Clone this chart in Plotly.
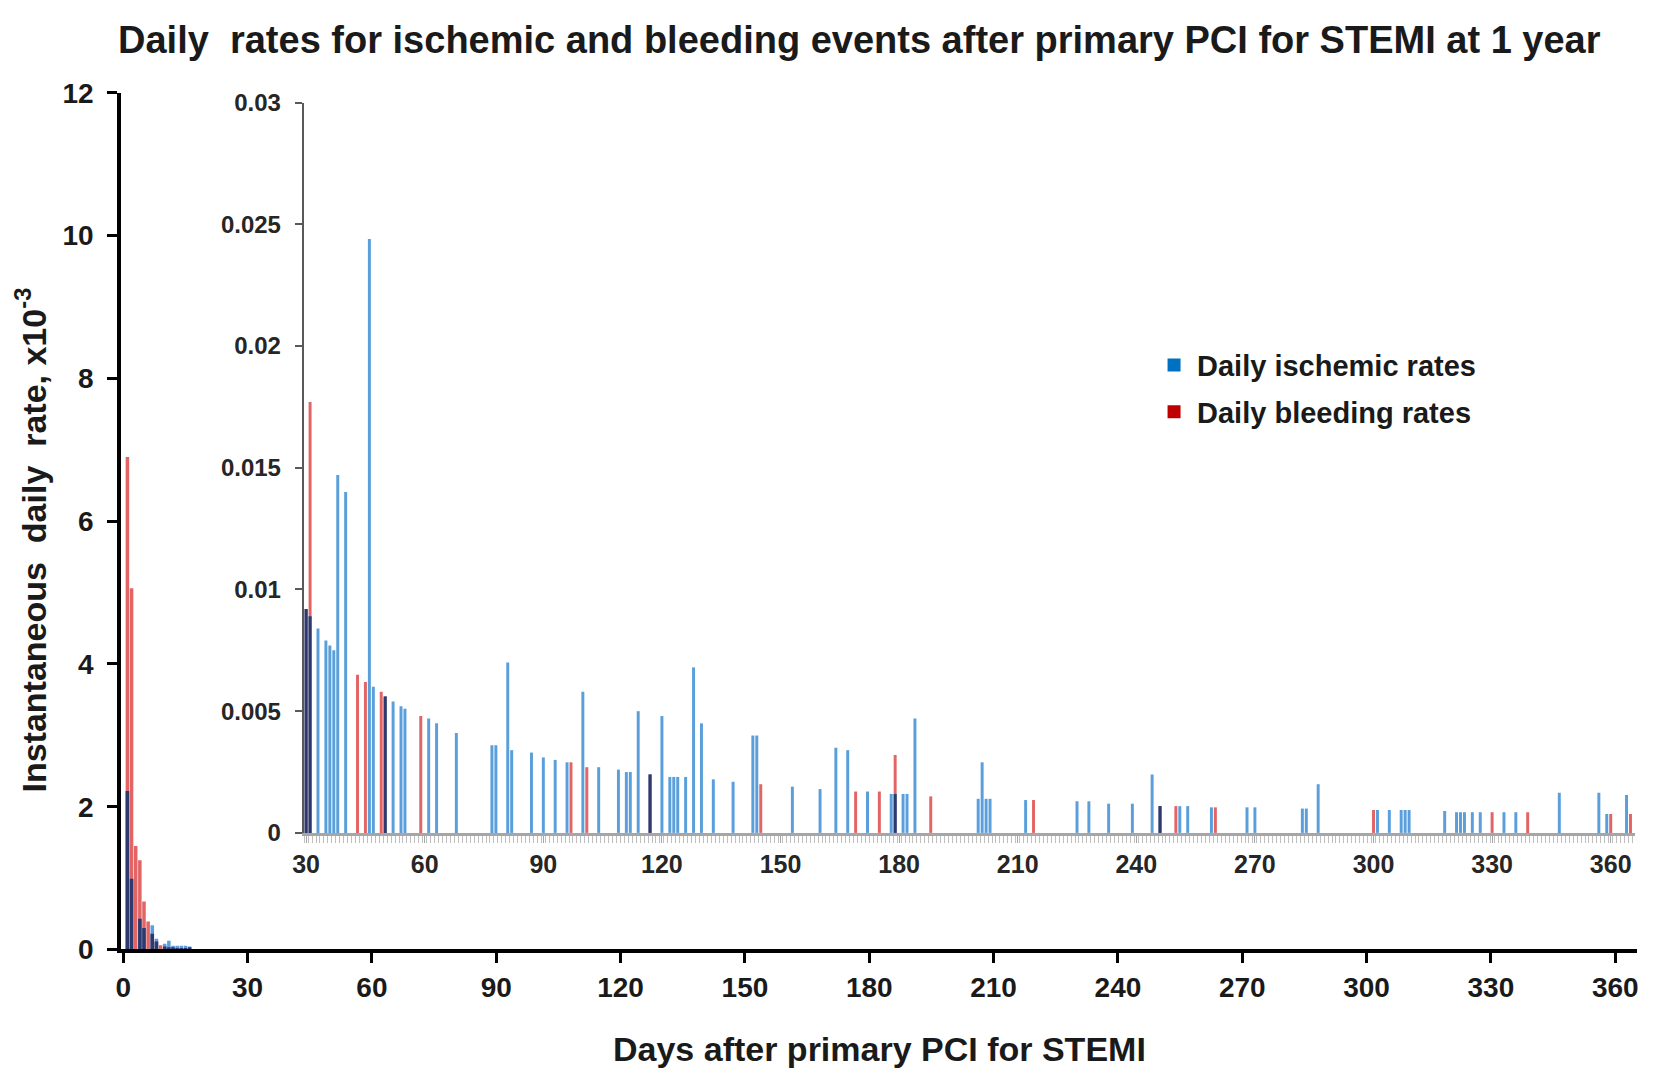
import numpy as np
import plotly.graph_objects as go

# main panel: first days after PCI (x10^-3)
early_days = list(range(1, 17))
early_ischemic = [2.22, 0.99, 0.0, 0.43, 0.30, 0.0, 0.34, 0.15, 0.0, 0.08, 0.12, 0.05, 0.05, 0.05, 0.05, 0.04]
early_bleeding = [6.90, 5.06, 1.45, 1.25, 0.67, 0.39, 0.22, 0.11, 0.06, 0.04, 0.03, 0.03, 0.02, 0.02, 0.02, 0.03]

# inset: days 30-365
isch_days = [30, 31, 33, 35, 36, 37, 38, 40, 46, 47, 50, 52, 54, 55, 61, 63, 68, 77, 78, 81,
             82, 87, 90, 93, 96, 100, 104, 109, 111, 112, 114, 117, 120, 122, 123, 124, 126, 128, 130, 133,
             138, 143, 144, 153, 160, 164, 167, 172, 178, 179, 181, 182, 184, 200, 201, 202, 203, 212, 225, 228,
             233, 239, 244, 246, 251, 253, 259, 268, 270, 282, 283, 286, 301, 304, 307, 308, 309, 318, 321, 322,
             323, 325, 327, 333, 336, 347, 357, 359, 364]
isch_rates = [0.0092, 0.0089, 0.0084, 0.0079, 0.0077, 0.0075, 0.0147, 0.0140, 0.0244, 0.0060,
              0.0056, 0.0054, 0.0052, 0.0051, 0.0047, 0.0045, 0.0041, 0.0036, 0.0036, 0.0070,
              0.0034, 0.0033, 0.0031, 0.0030, 0.0029, 0.0058, 0.0027, 0.0026, 0.0025, 0.0025,
              0.0050, 0.0024, 0.0048, 0.0023, 0.0023, 0.0023, 0.0023, 0.0068, 0.0045, 0.0022,
              0.0021, 0.0040, 0.0040, 0.0019, 0.0018, 0.0035, 0.0034, 0.0017, 0.0016, 0.0016,
              0.0016, 0.0016, 0.0047, 0.0014, 0.0029, 0.0014, 0.0014, 0.00135, 0.0013, 0.0013,
              0.0012, 0.0012, 0.0024, 0.0011, 0.0011, 0.0011, 0.00105, 0.00105, 0.00105, 0.0010,
              0.0010, 0.0020, 0.00094, 0.00094, 0.00094, 0.00094, 0.00094, 0.0009, 0.00085, 0.00085,
              0.00085, 0.00085, 0.00085, 0.00085, 0.00085, 0.00165, 0.00165, 0.00078, 0.00156]

bleed_days = [30, 31, 43, 45, 49, 50, 59, 97, 101, 117, 145, 169, 175, 179, 188, 214, 246, 250,
              260, 300, 330, 339, 360, 365]
bleed_rates = [0.0092, 0.0177, 0.0065, 0.0062, 0.0058, 0.0056, 0.0048, 0.0029, 0.0027, 0.0024,
               0.0020, 0.0017, 0.0017, 0.0032, 0.0015, 0.00135, 0.0011, 0.0011, 0.00105, 0.00094,
               0.00085, 0.00085, 0.00078, 0.00078]

BLUE = "#5a9fdb"
RED = "#e26464"
DARK = "#2f3a6c"
FONT = "Liberation Sans, Arial, sans-serif"
TXT = "#1a1a1a"

W, H = 1656, 1073
def px(x):
    return x / W
def py(y):
    return 1 - y / H

# overlapping part of both series drawn dark
early_both = np.minimum(early_ischemic, early_bleeding)
bleed_map = dict(zip(bleed_days, bleed_rates))
both_days = [d for d in isch_days if d in bleed_map]
both_rates = [min(r, bleed_map[d]) for d, r in zip(isch_days, isch_rates) if d in bleed_map]

fig = go.Figure()

for yy, col in [(early_bleeding, RED), (early_ischemic, BLUE), (early_both, DARK)]:
    fig.add_trace(go.Bar(x=early_days, y=yy, width=0.85, marker_color=col,
                         marker_line_width=0, showlegend=False, hoverinfo="skip"))

for xx, yy, col in [(bleed_days, bleed_rates, RED), (isch_days, isch_rates, BLUE),
                    (both_days, both_rates, DARK)]:
    fig.add_trace(go.Bar(x=xx, y=yy, width=0.75, marker_color=col,
                         marker_line_width=0, showlegend=False, hoverinfo="skip",
                         xaxis="x2", yaxis="y2"))

# legend entries
fig.add_trace(go.Scatter(x=[None], y=[None], mode="markers", name="Daily ischemic rates",
                         legendgroup="a",
                         marker=dict(symbol="square", size=13, color="#0070c0"),
                         xaxis="x2", yaxis="y2"))
fig.add_trace(go.Scatter(x=[None], y=[None], mode="markers", name="Daily bleeding rates",
                         legendgroup="b",
                         marker=dict(symbol="square", size=13, color="#c00000"),
                         xaxis="x2", yaxis="y2"))

fig.update_layout(
    width=W, height=H,
    margin=dict(l=0, r=0, t=0, b=0),
    paper_bgcolor="white", plot_bgcolor="rgba(0,0,0,0)",
    barmode="overlay",
    font=dict(family=FONT, color=TXT),
    showlegend=True,
    legend=dict(x=px(1140), y=py(326), xanchor="left", yanchor="top",
                font=dict(size=29, weight="bold", color=TXT),
                tracegroupgap=6, bgcolor="rgba(0,0,0,0)", itemwidth=36),
    xaxis=dict(domain=[px(102), px(1630)], range=[-0.5, 365.3], anchor="y",
               tickvals=list(range(0, 361, 30)), showgrid=False, zeroline=False,
               showline=True, linecolor="black", linewidth=4,
               ticks="outside", ticklen=10, tickwidth=3, tickcolor="black",
               ticklabelstandoff=0,
               tickfont=dict(size=28, weight="bold", color=TXT)),
    yaxis=dict(domain=[py(954), py(72)], range=[0, 12], anchor="x",
               tickvals=list(range(0, 13, 2)), showgrid=False, zeroline=False,
               showline=True, linecolor="black", linewidth=4,
               ticks="outside", ticklen=10, tickwidth=3, tickcolor="black",
               ticklabelstandoff=8,
               tickfont=dict(size=28, weight="bold", color=TXT)),
    xaxis2=dict(domain=[px(286), px(1628)], range=[29.4, 366.2], anchor="y2",
                tickvals=list(range(30, 361, 30)), showgrid=False, zeroline=False,
                showline=True, linecolor="#a6a6a6", linewidth=3,
                ticks="outside", ticklen=7, tickwidth=1, tickcolor="#a6a6a6",
                minor=dict(dtick=1, tick0=0.5, ticks="outside", ticklen=7,
                           tickwidth=1, tickcolor="#bfbfbf", showgrid=False),
                ticklabelstandoff=0,
                tickfont=dict(size=25, weight="bold", color="#262626")),
    yaxis2=dict(domain=[py(834), py(82)], range=[0, 0.03], anchor="x2",
                tickvals=[0, 0.005, 0.01, 0.015, 0.02, 0.025, 0.03],
                ticktext=["0", "0.005", "0.01", "0.015", "0.02", "0.025", "0.03"],
                showgrid=False, zeroline=False,
                showline=True, linecolor="#595959", linewidth=2,
                ticks="outside", ticklen=7, tickwidth=2, tickcolor="#595959",
                ticklabelstandoff=9,
                tickfont=dict(size=24, weight="bold", color="#262626")),
)

fig.add_annotation(text="Daily  rates for ischemic and bleeding events after primary PCI for STEMI at 1 year",
                   x=px(846), y=py(-6), xref="paper", yref="paper", showarrow=False,
                   xanchor="center", yanchor="top",
                   font=dict(size=38, weight="bold", color=TXT))
fig.add_annotation(text="Instantaneous\u00a0 daily\u00a0 rate, x10<sup>-3</sup>",
                   x=px(11), y=py(532), xref="paper", yref="paper", showarrow=False,
                   xanchor="center", yanchor="middle",
                   textangle=-90, font=dict(size=34, weight="bold", color=TXT))
fig.add_annotation(text="Days after primary PCI for STEMI",
                   x=px(866), y=py(1057), xref="paper", yref="paper", showarrow=False,
                   xanchor="center", yanchor="middle",
                   font=dict(size=34, weight="bold", color=TXT))

fig.write_html("out.html")
